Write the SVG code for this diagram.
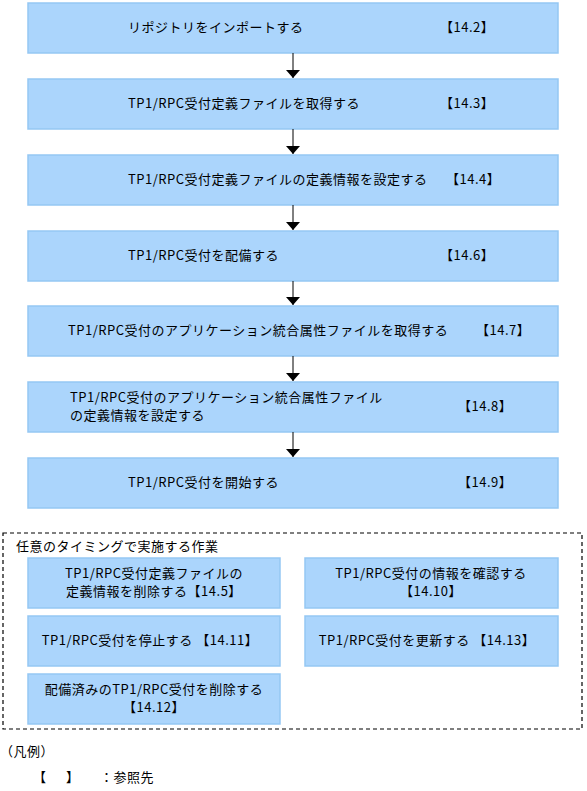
<svg xmlns="http://www.w3.org/2000/svg" width="587" height="791" viewBox="0 0 587 791">
<defs>
<style>
.box{fill:#abd5fc;stroke:#95c7f3;stroke-width:1.5}
.t{font-family:"Noto Sans CJK JP","Noto Sans",sans-serif;font-size:13px;letter-spacing:0.5px;fill:#000}
.m{text-anchor:middle}
.conn{stroke:#000;stroke-width:1;fill:none}
.dash{fill:none;stroke:#000;stroke-width:1.2;stroke-dasharray:4,3}
</style>
<marker id="arr" viewBox="0 0 8 14" refX="8" refY="7" markerWidth="8" markerHeight="14" markerUnits="userSpaceOnUse" orient="auto">
<path d="M0,0 L8,7 L0,14 z" fill="#000"/>
</marker>
</defs>
<rect width="587" height="791" fill="#fff"/>

<g id="n1"><rect class="box" x="28" y="3" width="530" height="50"/>
<text class="t" x="128" y="32">リポジトリをインポートする</text><text class="t" x="440" y="32">【14.2】</text></g>
<g id="n2"><rect class="box" x="28" y="79" width="530" height="50"/>
<text class="t" x="128" y="108">TP1/RPC受付定義ファイルを取得する</text><text class="t" x="440" y="108">【14.3】</text></g>
<g id="n3"><rect class="box" x="28" y="155" width="530" height="50"/>
<text class="t" x="128" y="184">TP1/RPC受付定義ファイルの定義情報を設定する</text><text class="t" x="446" y="184">【14.4】</text></g>
<g id="n4"><rect class="box" x="28" y="231" width="530" height="50"/>
<text class="t" x="128" y="260">TP1/RPC受付を配備する</text><text class="t" x="440" y="260">【14.6】</text></g>
<g id="n5"><rect class="box" x="28" y="306" width="530" height="50"/>
<text class="t" x="68" y="335">TP1/RPC受付のアプリケーション統合属性ファイルを取得する</text><text class="t" x="476" y="335">【14.7】</text></g>
<g id="n6"><rect class="box" x="28" y="382" width="530" height="50"/>
<text class="t" x="70" y="402">TP1/RPC受付のアプリケーション統合属性ファイル</text><text class="t" x="70" y="420">の定義情報を設定する</text><text class="t" x="458" y="411">【14.8】</text></g>
<g id="n7"><rect class="box" x="28" y="458" width="530" height="50"/>
<text class="t" x="128" y="487">TP1/RPC受付を開始する</text><text class="t" x="458" y="487">【14.9】</text></g>

<g id="connectors">
<line class="conn" x1="293" y1="53" x2="293" y2="78" marker-end="url(#arr)"/>
<line class="conn" x1="293" y1="129" x2="293" y2="154" marker-end="url(#arr)"/>
<line class="conn" x1="293" y1="205" x2="293" y2="230" marker-end="url(#arr)"/>
<line class="conn" x1="293" y1="281" x2="293" y2="305" marker-end="url(#arr)"/>
<line class="conn" x1="293" y1="356" x2="293" y2="381" marker-end="url(#arr)"/>
<line class="conn" x1="293" y1="432" x2="293" y2="457" marker-end="url(#arr)"/>
</g>

<g id="optional">
<rect class="dash" x="3" y="533" width="579" height="196"/>
<text class="t" x="16" y="551">任意のタイミングで実施する作業</text>
</g>
<g id="s1"><rect class="box" x="28" y="558" width="252" height="50"/>
<text class="t m" x="154" y="578">TP1/RPC受付定義ファイルの</text><text class="t m" x="154" y="596">定義情報を削除する【14.5】</text></g>
<g id="s2"><rect class="box" x="305" y="558" width="253" height="50"/>
<text class="t m" x="431" y="578">TP1/RPC受付の情報を確認する</text><text class="t m" x="431" y="596">【14.10】</text></g>
<g id="s3"><rect class="box" x="28" y="616" width="252" height="50"/>
<text class="t m" x="150" y="645">TP1/RPC受付を停止する 【14.11】</text></g>
<g id="s4"><rect class="box" x="305" y="616" width="253" height="50"/>
<text class="t m" x="427" y="645">TP1/RPC受付を更新する 【14.13】</text></g>
<g id="s5"><rect class="box" x="28" y="674" width="252" height="50"/>
<text class="t m" x="154" y="694">配備済みのTP1/RPC受付を削除する</text><text class="t m" x="154" y="712">【14.12】</text></g>

<g id="legend">
<text class="t" x="0" y="756">（凡例）</text>
<text class="t" x="33" y="782">【</text><text class="t" x="66" y="782">】</text><text class="t" x="100" y="782">：参照先</text>
</g>
</svg>
